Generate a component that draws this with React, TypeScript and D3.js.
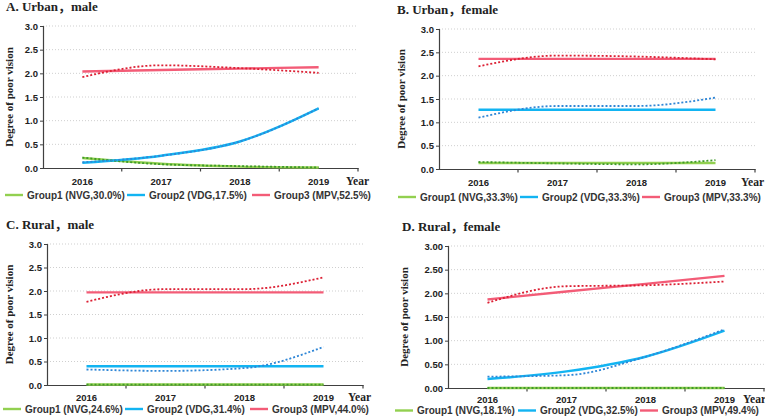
import React, { useEffect, useRef } from 'react';
import * as d3 from 'd3';

// categories and ticks
const years = ['2016', '2017', '2018', '2019'];
const yTicks = [0, 0.5, 1, 1.5, 2, 2.5, 3];

// solid = fitted trajectory, dotted = observed. order: Group1, Group2, Group3
const urbanMaleFit = [
  [0.21, 0.09, 0.03, 0.01],
  [0.11, 0.26, 0.56, 1.26],
  [2.04, 2.07, 2.1, 2.13],
];
const urbanMaleObs = [
  [0.22, 0.08, 0.04, 0.01],
  [0.12, 0.26, 0.56, 1.26],
  [1.92, 2.17, 2.11, 2.01],
];
const urbanFemaleFit = [
  [0.13, 0.13, 0.13, 0.13],
  [1.27, 1.27, 1.27, 1.27],
  [2.36, 2.36, 2.36, 2.36],
];
const urbanFemaleObs = [
  [0.15, 0.12, 0.1, 0.19],
  [1.1, 1.35, 1.35, 1.53],
  [2.2, 2.43, 2.41, 2.35],
];
const ruralMaleFit = [
  [0.01, 0.01, 0.01, 0.01],
  [0.4, 0.4, 0.4, 0.4],
  [1.97, 1.97, 1.97, 1.97],
];
const ruralMaleObs = [
  [0.01, 0.01, 0.01, 0.01],
  [0.33, 0.3, 0.36, 0.81],
  [1.77, 2.04, 2.04, 2.29],
];
const ruralFemaleFit = [
  [0.0, 0.0, 0.0, 0.0],
  [0.19, 0.35, 0.66, 1.21],
  [1.87, 2.04, 2.2, 2.37],
];
const ruralFemaleObs = [
  [0.0, 0.0, 0.0, 0.0],
  [0.24, 0.27, 0.66, 1.24],
  [1.8, 2.15, 2.17, 2.25],
];

const legendA = ['Group1 (NVG,30.0%)', 'Group2 (VDG,17.5%)', 'Group3 (MPV,52.5%)'];
const legendB = ['Group1 (NVG,33.3%)', 'Group2 (VDG,33.3%)', 'Group3 (MPV,33.3%)'];
const legendC = ['Group1 (NVG,24.6%)', 'Group2 (VDG,31.4%)', 'Group3 (MPV,44.0%)'];
const legendD = ['Group1 (NVG,18.1%)', 'Group2 (VDG,32.5%)', 'Group3 (MPV,49.4%)'];

const solidColors = ['#92d050', '#12b4f2', '#f35c77'];
const dottedColors = ['#3f9a2a', '#2f86d6', '#dc1f33'];

const serif = '"Liberation Serif", "Times New Roman", "Noto Sans CJK SC", serif';
const sans = '"Liberation Sans", Arial, sans-serif';

type PanelCfg = {
  title: string;
  titleX: number;
  titleY: number;
  left: number;
  right: number;
  top: number;
  bottom: number;
  fmt: string;
  fit: number[][];
  obs: number[][];
  legend: string[];
  legendY: number;
  legendX: number[];
  yearX: number;
  yTitleX: number;
  tickPad: number;
};

const panels: PanelCfg[] = [
  {
    title: 'A. Urban，male', titleX: 6, titleY: 11,
    left: 43, right: 358, top: 26, bottom: 168, fmt: '.1f',
    fit: urbanMaleFit, obs: urbanMaleObs, legend: legendA,
    legendY: 195, legendX: [5, 127, 252], yearX: 346, yTitleX: 13, tickPad: 10.5,
  },
  {
    title: 'B. Urban，female', titleX: 397, titleY: 14,
    left: 439, right: 755, top: 29, bottom: 169, fmt: '.1f',
    fit: urbanFemaleFit, obs: urbanFemaleObs, legend: legendB,
    legendY: 197, legendX: [398, 520, 642], yearX: 741, yTitleX: 405, tickPad: 10,
  },
  {
    title: 'C. Rural，male', titleX: 6, titleY: 229,
    left: 47, right: 363, top: 244, bottom: 385, fmt: '.1f',
    fit: ruralMaleFit, obs: ruralMaleObs, legend: legendC,
    legendY: 409, legendX: [3, 125, 250], yearX: 348, yTitleX: 13, tickPad: 9.5,
  },
  {
    title: 'D. Rural，female', titleX: 402, titleY: 231,
    left: 448, right: 764, top: 246, bottom: 388, fmt: '.2f',
    fit: ruralFemaleFit, obs: ruralFemaleObs, legend: legendD,
    legendY: 410.5, legendX: [395, 518, 640], yearX: 743, yTitleX: 408, tickPad: 8,
  },
];

function drawPanel(root: d3.Selection<SVGSVGElement, unknown, null, undefined>, p: PanelCfg) {
  const g = root.append('g');
  const x = d3.scaleBand<string>().domain(years).range([p.left, p.right]);
  const y = d3.scaleLinear().domain([0, 3]).range([p.bottom, p.top]);
  const cx = (i: number) => (x(years[i]) as number) + x.bandwidth() / 2;

  // dotted gridlines
  g.selectAll('line.grid')
    .data(yTicks.filter(t => t > 0))
    .join('line')
    .attr('x1', p.left).attr('x2', p.right)
    .attr('y1', d => y(d)).attr('y2', d => y(d))
    .attr('stroke', '#cfcfcf').attr('stroke-width', 1)
    .attr('stroke-dasharray', '1,2');

  // y axis
  const yAxis = g.append('g')
    .attr('transform', `translate(${p.left},0)`)
    .call(d3.axisLeft(y).tickValues(yTicks).tickSize(3).tickPadding(2).tickFormat(d3.format(p.fmt)));
  yAxis.select('.domain').attr('stroke', '#404040').attr('stroke-width', 1.2);
  yAxis.selectAll('.tick line').attr('stroke', '#404040');
  yAxis.selectAll('text')
    .attr('font-family', sans).attr('font-size', 9.5).attr('font-weight', 'bold').attr('fill', '#222');

  // x axis
  const xAxis = g.append('g')
    .attr('transform', `translate(0,${p.bottom})`)
    .call(d3.axisBottom(x).tickSize(0).tickPadding(p.tickPad));
  xAxis.select('.domain').attr('stroke', '#404040').attr('stroke-width', 1.2);
  xAxis.selectAll('text')
    .attr('font-family', sans).attr('font-size', 9.5).attr('font-weight', 'bold').attr('fill', '#222');
  g.selectAll('line.xb')
    .data(years)
    .join('line')
    .attr('x1', d => (x(d) as number) + x.bandwidth())
    .attr('x2', d => (x(d) as number) + x.bandwidth())
    .attr('y1', p.bottom).attr('y2', p.bottom + 3.5)
    .attr('stroke', '#404040').attr('stroke-width', 1.2);

  g.append('text')
    .attr('x', p.yearX).attr('y', p.bottom + p.tickPad + 6.5)
    .attr('font-family', serif).attr('font-weight', 'bold').attr('font-size', 11.5)
    .attr('fill', '#222')
    .text('Year');

  // y title
  g.append('text')
    .attr('transform', `translate(${p.yTitleX},${(p.top + p.bottom) / 2}) rotate(-90)`)
    .attr('text-anchor', 'middle')
    .attr('font-family', serif).attr('font-weight', 'bold').attr('font-size', 11)
    .attr('fill', '#222')
    .text('Degree of poor vision');

  // panel title
  g.append('text')
    .attr('x', p.titleX).attr('y', p.titleY)
    .attr('font-family', serif).attr('font-weight', 'bold').attr('font-size', 13)
    .attr('fill', '#222')
    .text(p.title);

  const line = d3.line<number>()
    .x((_d, i) => cx(i))
    .y(d => y(d))
    .curve(d3.curveMonotoneX);

  p.fit.forEach((vals, k) => {
    g.append('path')
      .attr('d', line(vals) as string)
      .attr('fill', 'none')
      .attr('stroke', solidColors[k])
      .attr('stroke-width', 2.4);
  });
  p.obs.forEach((vals, k) => {
    g.append('path')
      .attr('d', line(vals) as string)
      .attr('fill', 'none')
      .attr('stroke', dottedColors[k])
      .attr('stroke-width', 1.8)
      .attr('stroke-dasharray', '2,2');
  });

  // legend
  p.legend.forEach((label, k) => {
    const lx = p.legendX[k];
    g.append('line')
      .attr('x1', lx).attr('x2', lx + 18)
      .attr('y1', p.legendY).attr('y2', p.legendY)
      .attr('stroke', solidColors[k]).attr('stroke-width', 2.4);
    g.append('text')
      .attr('x', lx + 22).attr('y', p.legendY + 3.5)
      .attr('font-family', sans).attr('font-weight', 'bold').attr('font-size', 10)
      .attr('fill', '#333')
      .text(label);
  });
}

const App: React.FC = () => {
  const ref = useRef<SVGSVGElement | null>(null);

  useEffect(() => {
    const svg = d3.select(ref.current as SVGSVGElement);
    svg.selectAll('*').remove();
    panels.forEach(p => drawPanel(svg, p));
  }, []);

  return (
    <svg
      ref={ref}
      width={765}
      height={418}
      style={{ position: 'absolute', left: 0, top: 0, background: '#fff' }}
    />
  );
};

export default App;
